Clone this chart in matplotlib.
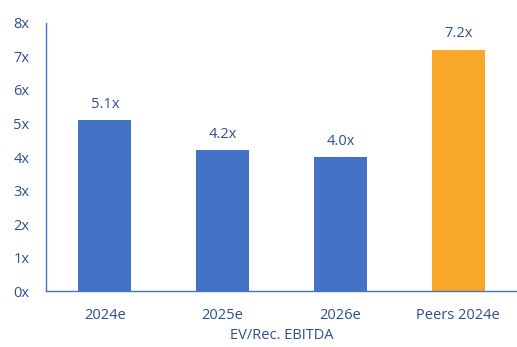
import matplotlib.pyplot as plt

categories = ["2024e", "2025e", "2026e", "Peers 2024e"]
values = [5.1, 4.2, 4.0, 7.2]
labels = ["5.1x", "4.2x", "4.0x", "7.2x"]
colors = ["#4472C4", "#4472C4", "#4472C4", "#F9A82A"]
yticks = [0, 1, 2, 3, 4, 5, 6, 7, 8]

txt = "#2F4F8F"
plt.rcParams['font.family'] = ['Open Sans', 'DejaVu Sans']

fig = plt.figure(figsize=(5.17, 3.47), dpi=100)
ax = fig.add_axes([0.089, 0.161, 0.911, 0.773])

x = range(len(categories))
ax.bar(x, values, width=0.45, color=colors)
for i, v in enumerate(values):
    ax.text(i, v + 0.25, labels[i], ha='center', va='bottom', fontsize=10.5, color=txt)

ax.set_xlim(-0.5, 3.5)
ax.set_ylim(0, 8)
ax.set_yticks(yticks)
ax.set_yticklabels([f"{t}x" for t in yticks])
ax.set_xticks(list(x))
ax.set_xticklabels(categories)
ax.tick_params(axis='both', length=0, colors=txt, labelsize=10.5)
ax.tick_params(axis='y', pad=12)
ax.tick_params(axis='x', pad=12)
ax.set_xlabel("EV/Rec. EBITDA", color=txt, fontsize=10.5, labelpad=4)

for s in ['top', 'right']:
    ax.spines[s].set_visible(False)
for s in ['left', 'bottom']:
    ax.spines[s].set_color("#4472C4")
    ax.spines[s].set_linewidth(1)

fig.savefig("out.png", dpi=100)
